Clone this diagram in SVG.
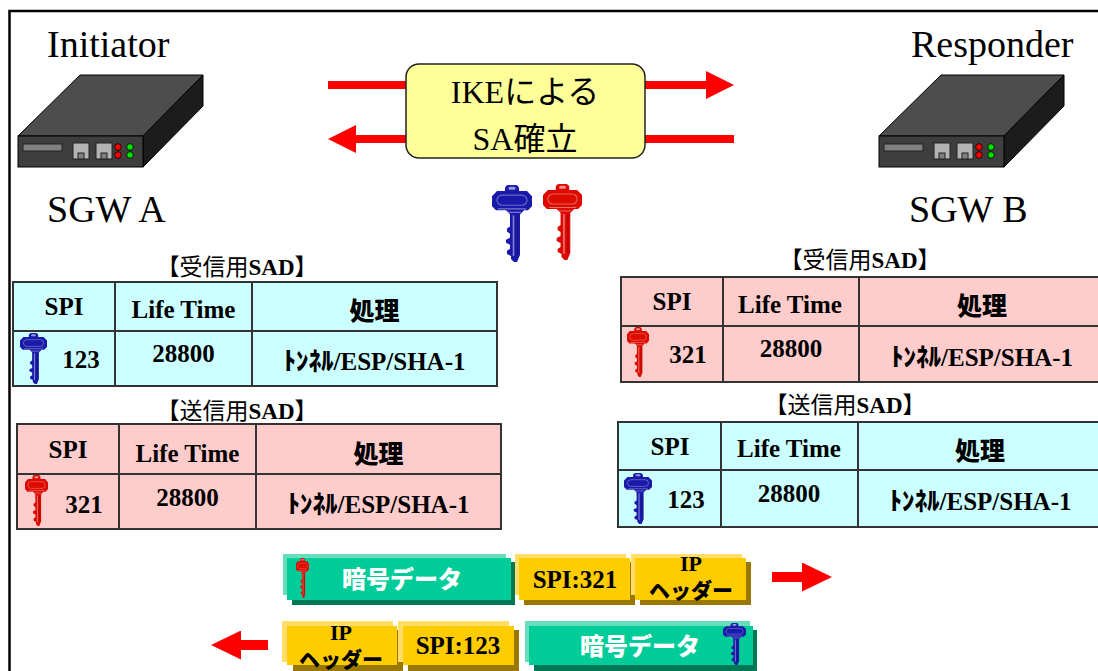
<svg xmlns="http://www.w3.org/2000/svg" xmlns:xlink="http://www.w3.org/1999/xlink" width="1098" height="671" viewBox="0 0 1098 671">
  <style>
    .lbl { font-family: "Liberation Serif", serif; font-size: 38px; fill: #000; }
    .ike { font-family: "Liberation Serif", serif; font-size: 32px; fill: #000; text-anchor: middle; }
    .cjk { font-family: "Noto Sans CJK JP", sans-serif; }
    .ttl { font-family: "Noto Sans CJK JP", sans-serif; font-size: 23px; fill: #000; text-anchor: middle; }
    .lat { font-family: "Liberation Serif", serif; font-weight: bold; }
    .cell { font-family: "Liberation Serif", serif; font-weight: bold; font-size: 25px; fill: #000; text-anchor: middle; }
    .jpb { font-family: "Noto Sans CJK JP", sans-serif; font-weight: 900; }
    .cyan { fill: #CCFFFF; }
    .pink { fill: #FFCCCC; }
    .grid { fill: none; stroke: #333; stroke-width: 2; }
    .top { fill: #4D4D4D; stroke: #000; stroke-width: 1; }
    .front { fill: #3E3E3E; stroke: #000; stroke-width: 1; }
    .side { fill: #1C1C1C; stroke: #000; stroke-width: 1; }
    .slot { fill: #808080; stroke: #222; stroke-width: 1; }
    .port { fill: #B3B3B3; stroke: #222; stroke-width: 1; }
    .ledr { fill: #FF0000; stroke: #000; stroke-width: 0.8; }
    .ledg { fill: #00E000; stroke: #000; stroke-width: 0.8; }
    .arrow { stroke: #FF0000; fill: none; }
    .g-hi { fill: #66DDBB; } .g-main { fill: #00CC99; } .g-sh { fill: #007755; }
    .y-hi { fill: #FFDD66; } .y-main { fill: #FFCC00; } .y-sh { fill: #997700; }
    .pkt-w { font-family: "Noto Sans CJK JP", sans-serif; font-weight: 900; font-size: 24px; fill: #fff; text-anchor: middle; }
    .pkt-s { font-family: "Liberation Serif", serif; font-weight: bold; font-size: 25px; fill: #000; text-anchor: middle; }
    .pkt-ip { font-family: "Liberation Serif", serif; font-weight: bold; font-size: 22px; fill: #000; text-anchor: middle; }
    .pkt-h { font-family: "Noto Sans CJK JP", sans-serif; font-weight: 900; font-size: 21px; fill: #000; text-anchor: middle; }
    .kblue { color: #1A1AAA; }
    .kred { color: #DD0A00; }
  </style>
  <defs>
    <marker id="head" viewBox="0 0 28 28" refX="0" refY="14" markerWidth="28" markerHeight="28" markerUnits="userSpaceOnUse" orient="auto">
      <path d="M0,0 L28,14 L0,28 Z" fill="#FF0000"/>
    </marker>
    <marker id="head2" viewBox="0 0 30 29" refX="0" refY="14.5" markerWidth="30" markerHeight="29" markerUnits="userSpaceOnUse" orient="auto">
      <path d="M0,0 L30,14.5 L0,29 Z" fill="#FF0000"/>
    </marker>
    <!-- key glyph, coloured through currentColor -->
    <symbol id="key" viewBox="0 0 40 76" preserveAspectRatio="none">
      <path fill="currentColor" d="M13,4 Q13,0 17,0 H23 Q27,0 27,4 V6 H35 L40,11 V21 L36,25 H32 L28,29 V69 L25,76 H22 L19,73 V70 L15,68 V65 L18,63 V59 L14,57 V54 L18,52 V48 L15,46 V43 L18,41 V29 L14,25 H4 L0,21 V11 L5,6 H13 Z"/>
      <rect x="16.5" y="1.8" width="7" height="3" rx="1.5" fill="#fff" fill-opacity="0.55"/>
      <rect x="5" y="10" width="30" height="10" rx="5" fill="none" stroke="#fff" stroke-opacity="0.35" stroke-width="1.2"/>
      <path d="M6,23.5 H34 M11,27 H29" stroke="#fff" stroke-opacity="0.4" stroke-width="1.2"/>
      <path d="M21.5,30 V70" stroke="#fff" stroke-opacity="0.45" stroke-width="1.6"/>
      <path d="M25.5,30 V69" stroke="#000" stroke-opacity="0.25" stroke-width="1.2"/>
    </symbol>
    <!-- security gateway box -->
    <g id="gateway">
      <polygon class="top" points="18,136 80,75 203,75 143,136"/>
      <polygon class="side" points="143,136 203,75 203,106 143,167"/>
      <rect class="front" x="18" y="136" width="125" height="31"/>
      <rect class="slot" x="23" y="144" width="39" height="7"/>
      <rect class="port" x="73" y="143" width="16" height="16"/>
      <rect class="slot" x="78" y="153" width="6" height="6"/>
      <rect class="port" x="96" y="143" width="16" height="16"/>
      <rect class="slot" x="101" y="153" width="6" height="6"/>
      <circle class="ledr" cx="118" cy="147" r="3.3"/>
      <circle class="ledr" cx="118" cy="155" r="3.3"/>
      <circle class="ledg" cx="130" cy="147" r="3.3"/>
      <circle class="ledg" cx="130" cy="155" r="3.3"/>
    </g>
  </defs>

  <rect width="1098" height="671" fill="#fff"/>
  <!-- outer frame -->
  <rect x="9.5" y="11" width="1200" height="700" fill="none" stroke="#000" stroke-width="2.5"/>

  <!-- connectors -->
  <g id="connectors">
    <line class="arrow" x1="328" y1="85" x2="706" y2="85" stroke-width="8" marker-end="url(#head)"/>
    <line class="arrow" x1="734" y1="139" x2="356" y2="139" stroke-width="8" marker-end="url(#head)"/>
    <line class="arrow" x1="772" y1="577" x2="802" y2="577" stroke-width="10" marker-end="url(#head2)"/>
    <line class="arrow" x1="268" y1="645" x2="241" y2="645" stroke-width="10" marker-end="url(#head2)"/>
  </g>

  <!-- SGW A -->
  <g id="sgw-a">
    <text class="lbl" x="47" y="57">Initiator</text>
    <use xlink:href="#gateway" href="#gateway"/>
    <text class="lbl" x="47" y="222">SGW A</text>
  </g>

  <!-- SGW B -->
  <g id="sgw-b">
    <text class="lbl" x="911" y="57">Responder</text>
    <use xlink:href="#gateway" href="#gateway" transform="translate(861,0)"/>
    <text class="lbl" x="909" y="222">SGW B</text>
  </g>

  <!-- IKE negotiation -->
  <g id="ike">
    <rect x="406" y="64" width="239" height="94" rx="13" fill="#FFFF99" stroke="#222" stroke-width="1.5"/>
    <text class="ike" x="525" y="103">IKE<tspan class="cjk">による</tspan></text>
    <text class="ike" x="525" y="150">SA<tspan class="cjk">確立</tspan></text>
  </g>

  <!-- shared keys -->
  <g id="keys">
    <use xlink:href="#key" href="#key" class="kblue" x="492" y="185" width="40" height="77"/>
    <use xlink:href="#key" href="#key" class="kred" x="543" y="184" width="39" height="76"/>
  </g>

  <!-- SGW A inbound SAD -->
  <g id="sad-a-in">
    <text class="ttl" x="237" y="275">【受信用<tspan class="lat">SAD</tspan>】</text>
    <rect class="cyan" x="13" y="282" width="484" height="104"/>
    <rect class="grid" x="13" y="282" width="484" height="104"/>
    <path class="grid" d="M13,331 H497 M115,282 V386 M252,282 V386"/>
    <text class="cell" x="64" y="315">SPI</text>
    <text class="cell" x="183.5" y="318">Life Time</text>
    <text class="cell jpb" x="374.5" y="320">処理</text>
    <use xlink:href="#key" href="#key" class="kblue" x="20" y="333" width="27" height="51"/>
    <text class="cell" x="81" y="368">123</text>
    <text class="cell" x="183.5" y="362">28800</text>
    <text class="cell" x="374.5" y="370"><tspan class="jpb">ﾄﾝﾈﾙ</tspan>/ESP/SHA-1</text>
  </g>

  <!-- SGW A outbound SAD -->
  <g id="sad-a-out">
    <text class="ttl" x="237" y="419">【送信用<tspan class="lat">SAD</tspan>】</text>
    <rect class="pink" x="17" y="424" width="484" height="105"/>
    <rect class="grid" x="17" y="424" width="484" height="105"/>
    <path class="grid" d="M17,474 H501 M119,424 V529 M256,424 V529"/>
    <text class="cell" x="68" y="458">SPI</text>
    <text class="cell" x="187.5" y="462">Life Time</text>
    <text class="cell jpb" x="378.5" y="463">処理</text>
    <use xlink:href="#key" href="#key" class="kred" x="25" y="475" width="23" height="51"/>
    <text class="cell" x="84" y="513">321</text>
    <text class="cell" x="187.5" y="506">28800</text>
    <text class="cell" x="378.5" y="513"><tspan class="jpb">ﾄﾝﾈﾙ</tspan>/ESP/SHA-1</text>
  </g>

  <!-- SGW B inbound SAD -->
  <g id="sad-b-in">
    <text class="ttl" x="860" y="268">【受信用<tspan class="lat">SAD</tspan>】</text>
    <rect class="pink" x="621" y="277" width="480" height="105"/>
    <rect class="grid" x="621" y="277" width="480" height="105"/>
    <path class="grid" d="M621,326 H1101 M723,277 V382 M859,277 V382"/>
    <text class="cell" x="672" y="310">SPI</text>
    <text class="cell" x="790" y="313">Life Time</text>
    <text class="cell jpb" x="982" y="315">処理</text>
    <use xlink:href="#key" href="#key" class="kred" x="627" y="327" width="22" height="50"/>
    <text class="cell" x="688" y="363">321</text>
    <text class="cell" x="791" y="357">28800</text>
    <text class="cell" x="982" y="366"><tspan class="jpb">ﾄﾝﾈﾙ</tspan>/ESP/SHA-1</text>
  </g>

  <!-- SGW B outbound SAD -->
  <g id="sad-b-out">
    <text class="ttl" x="845" y="413">【送信用<tspan class="lat">SAD</tspan>】</text>
    <rect class="cyan" x="618" y="422" width="483" height="105"/>
    <rect class="grid" x="618" y="422" width="483" height="105"/>
    <path class="grid" d="M618,470 H1101 M721,422 V527 M858,422 V527"/>
    <text class="cell" x="670" y="455">SPI</text>
    <text class="cell" x="789" y="457">Life Time</text>
    <text class="cell jpb" x="980" y="460">処理</text>
    <use xlink:href="#key" href="#key" class="kblue" x="624" y="473" width="28" height="51"/>
    <text class="cell" x="686" y="508">123</text>
    <text class="cell" x="789" y="502">28800</text>
    <text class="cell" x="980.5" y="510"><tspan class="jpb">ﾄﾝﾈﾙ</tspan>/ESP/SHA-1</text>
  </g>

  <!-- outbound packet A to B -->
  <g id="packet-ab">
    <rect class="g-sh" x="292" y="562" width="223" height="43"/>
    <rect class="g-hi" x="283" y="554" width="223" height="41"/>
    <rect class="g-main" x="287" y="558" width="224" height="42"/>
    <use xlink:href="#key" href="#key" class="kred" x="296" y="558" width="13" height="40"/>
    <text class="pkt-w" x="402" y="588">暗号データ</text>

    <rect class="y-sh" x="524" y="562" width="111" height="43"/>
    <rect class="y-hi" x="515" y="554" width="111" height="41"/>
    <rect class="y-main" x="519" y="558" width="111" height="42"/>
    <text class="pkt-s" x="575" y="588">SPI:321</text>

    <rect class="y-sh" x="640" y="562" width="111" height="43"/>
    <rect class="y-hi" x="631" y="554" width="111" height="41"/>
    <rect class="y-main" x="635" y="558" width="111" height="42"/>
    <text class="pkt-ip" x="691" y="571">IP</text>
    <text class="pkt-h" x="691" y="598">ヘッダー</text>
  </g>

  <!-- outbound packet B to A -->
  <g id="packet-ba">
    <rect class="y-sh" x="293" y="630" width="110" height="41"/>
    <rect class="y-hi" x="282" y="621" width="111" height="41"/>
    <rect class="y-main" x="287" y="626" width="110" height="39"/>
    <text class="pkt-ip" x="341" y="640">IP</text>
    <text class="pkt-h" x="341" y="667">ヘッダー</text>

    <rect class="y-sh" x="408" y="630" width="111" height="41"/>
    <rect class="y-hi" x="398" y="621" width="111" height="41"/>
    <rect class="y-main" x="403" y="626" width="111" height="39"/>
    <text class="pkt-s" x="458" y="654">SPI:123</text>

    <rect class="g-sh" x="534" y="630" width="223" height="41"/>
    <rect class="g-hi" x="525" y="621" width="225" height="41"/>
    <rect class="g-main" x="529" y="626" width="224" height="39"/>
    <text class="pkt-w" x="640" y="655">暗号データ</text>
    <use xlink:href="#key" href="#key" class="kblue" x="723" y="623" width="23" height="42"/>
  </g>
</svg>
